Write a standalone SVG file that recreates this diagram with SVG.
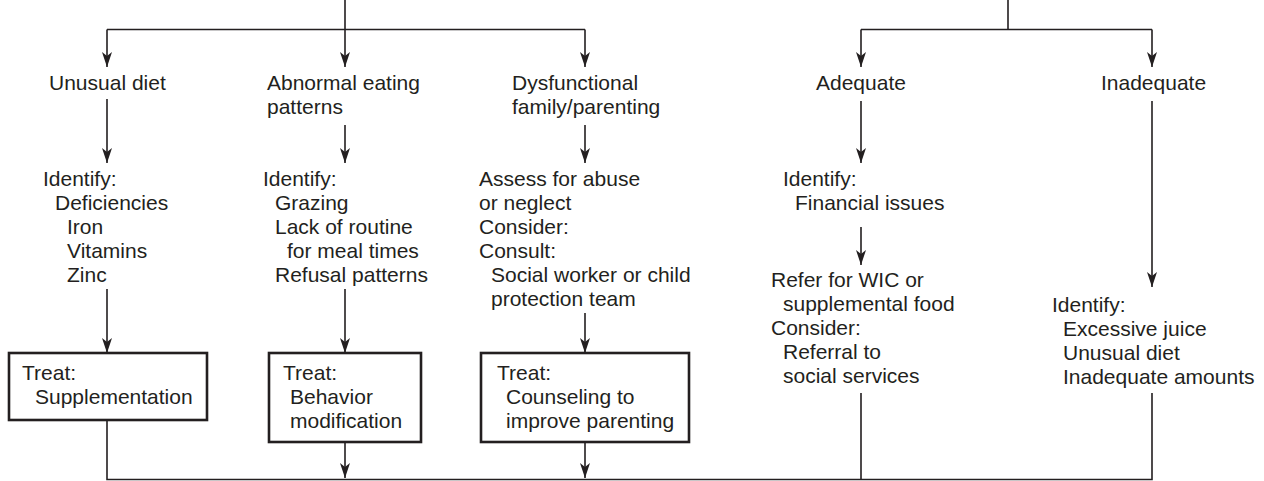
<svg xmlns="http://www.w3.org/2000/svg" width="1264" height="481" viewBox="0 0 1264 481">
  <style>
    text { font-family: "Liberation Sans", Arial, Helvetica, sans-serif; font-size: 21px; fill: #231f20; }
    .wire { fill: none; stroke: #231f20; stroke-width: 1.6; }
    .arrow { fill: none; stroke: #231f20; stroke-width: 1.6; marker-end: url(#head); }
    .box { fill: #ffffff; stroke: #231f20; stroke-width: 2.6; }
  </style>
  <defs>
    <marker id="head" markerUnits="userSpaceOnUse" markerWidth="16" markerHeight="12" viewBox="-16 -6 16 12" refX="0" refY="0" orient="auto">
      <path d="M0,0 L-15,-5 L-11,0 L-15,5 Z" fill="#231f20"/>
    </marker>
  </defs>
  <rect width="1264" height="481" fill="#ffffff"/>

  <!-- connectors -->
  <g id="connectors">
    <!-- left branch fan-out -->
    <path class="wire" d="M345,0 V29.5 M107,29.5 H585"/>
    <path class="arrow" d="M107,29.5 V67"/>
    <path class="arrow" d="M345,29.5 V67"/>
    <path class="arrow" d="M585,29.5 V67"/>
    <!-- right branch fan-out -->
    <path class="wire" d="M1008,0 V29.5 M861,29.5 H1152"/>
    <path class="arrow" d="M861,29.5 V67"/>
    <path class="arrow" d="M1152,29.5 V67"/>
    <!-- column 1 -->
    <path class="arrow" d="M107,99 V163"/>
    <path class="arrow" d="M107,289 V353"/>
    <!-- column 2 -->
    <path class="arrow" d="M345,125 V163"/>
    <path class="arrow" d="M345,289 V353"/>
    <path class="arrow" d="M345,442 V478"/>
    <!-- column 3 -->
    <path class="arrow" d="M585,125 V163"/>
    <path class="arrow" d="M585,313 V353"/>
    <path class="arrow" d="M585,442 V478"/>
    <!-- column 4 -->
    <path class="arrow" d="M861,101 V163"/>
    <path class="arrow" d="M861,227 V265"/>
    <!-- column 5 -->
    <path class="arrow" d="M1152,101 V287"/>
    <!-- bottom merge -->
    <path class="wire" d="M107,420 V479.5 H1152 V393 M861,393 V479.5"/>
  </g>

  <g id="unusual-diet">
    <text x="49" y="90">Unusual diet</text>
  </g>
  <g id="identify-deficiencies">
    <text x="43" y="186">Identify:</text>
    <text x="55" y="210">Deficiencies</text>
    <text x="67" y="234">Iron</text>
    <text x="67" y="258">Vitamins</text>
    <text x="67" y="282">Zinc</text>
  </g>
  <g id="treat-supplementation">
    <rect class="box" x="9" y="353" width="198" height="67"/>
    <text x="22" y="380">Treat:</text>
    <text x="35" y="404">Supplementation</text>
  </g>

  <g id="abnormal-eating">
    <text x="267" y="90">Abnormal eating</text>
    <text x="267" y="114">patterns</text>
  </g>
  <g id="identify-eating">
    <text x="263" y="186">Identify:</text>
    <text x="275" y="210">Grazing</text>
    <text x="275" y="234">Lack of routine</text>
    <text x="287" y="258">for meal times</text>
    <text x="275" y="282">Refusal patterns</text>
  </g>
  <g id="treat-behavior">
    <rect class="box" x="269" y="353" width="152" height="89"/>
    <text x="283" y="380">Treat:</text>
    <text x="290" y="404">Behavior</text>
    <text x="290" y="428">modification</text>
  </g>

  <g id="dysfunctional-family">
    <text x="512" y="90">Dysfunctional</text>
    <text x="512" y="114">family/parenting</text>
  </g>
  <g id="assess-abuse">
    <text x="479" y="186">Assess for abuse</text>
    <text x="479" y="210">or neglect</text>
    <text x="479" y="234">Consider:</text>
    <text x="479" y="258">Consult:</text>
    <text x="491" y="282">Social worker or child</text>
    <text x="491" y="306">protection team</text>
  </g>
  <g id="treat-counseling">
    <rect class="box" x="481" y="353" width="208" height="89"/>
    <text x="497" y="380">Treat:</text>
    <text x="506" y="404">Counseling to</text>
    <text x="506" y="428">improve parenting</text>
  </g>

  <g id="adequate">
    <text x="816" y="90">Adequate</text>
  </g>
  <g id="identify-financial">
    <text x="783" y="186">Identify:</text>
    <text x="795" y="210">Financial issues</text>
  </g>
  <g id="refer-wic">
    <text x="771" y="287">Refer for WIC or</text>
    <text x="783" y="311">supplemental food</text>
    <text x="771" y="335">Consider:</text>
    <text x="783" y="359">Referral to</text>
    <text x="783" y="383">social services</text>
  </g>

  <g id="inadequate">
    <text x="1101" y="90">Inadequate</text>
  </g>
  <g id="identify-intake">
    <text x="1052" y="312">Identify:</text>
    <text x="1063" y="336">Excessive juice</text>
    <text x="1063" y="360">Unusual diet</text>
    <text x="1063" y="384">Inadequate amounts</text>
  </g>
</svg>
